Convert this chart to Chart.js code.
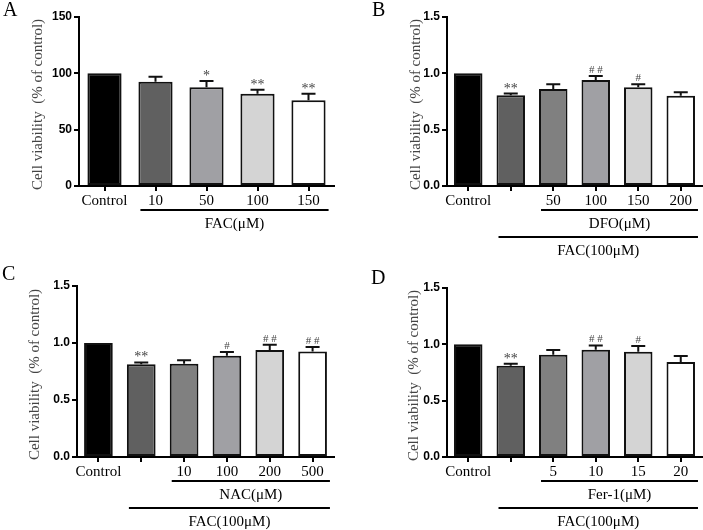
<!DOCTYPE html>
<html><head><meta charset="utf-8">
<script src="https://cdn.jsdelivr.net/npm/chart.js@4.4.1/dist/chart.umd.min.js"></script>
<style>
html,body{margin:0;padding:0;background:#fff;}
#wrap{position:relative;width:703px;height:530px;overflow:hidden;background:#fff;}
canvas{position:absolute;left:0;top:0;}
</style></head><body><div id="wrap">
<canvas id="cA" width="703" height="530"></canvas>
<canvas id="cB" width="703" height="530"></canvas>
<canvas id="cC" width="703" height="530"></canvas>
<canvas id="cD" width="703" height="530"></canvas>
</div>
<script>
// ---------- data ----------
const labelsA = ['Control', '10', '50', '100', '150'];
const valuesA = [100, 92.6, 87.6, 81.9, 76.0];
const errorsA = [0, 4.4, 5.6, 3.6, 5.9];
const marksA  = ['', '', '*', '**', '**'];
const yTicksA = [0, 50, 100, 150];

const labelsB = ['Control', '', '50', '100', '150', '200'];
const valuesB = [1.0, 0.806, 0.861, 0.941, 0.876, 0.80];
const errorsB = [0, 0.015, 0.042, 0.035, 0.027, 0.032];
const marksB  = ['', '**', '', '# #', '#', ''];
const yTicksB = ['0.0', '0.5', '1.0', '1.5'];

const labelsC = ['Control', '', '10', '100', '200', '500'];
const valuesC = [1.0, 0.813, 0.818, 0.888, 0.938, 0.926];
const errorsC = [0, 0.017, 0.030, 0.032, 0.046, 0.038];
const marksC  = ['', '**', '', '#', '# #', '# #'];
const yTicksC = ['0.0', '0.5', '1.0', '1.5'];

const labelsD = ['Control', '', '5', '10', '15', '20'];
const valuesD = [1.0, 0.81, 0.908, 0.952, 0.935, 0.843];
const errorsD = [0, 0.018, 0.042, 0.038, 0.050, 0.053];
const marksD  = ['', '**', '', '# #', '#', ''];
const yTicksD = ['0.0', '0.5', '1.0', '1.5'];

const groupsA = [{label: 'FAC(μM)', from: 1, to: 4, level: 0}];
const groupsB = [{label: 'DFO(μM)', from: 2, to: 5, level: 0}, {label: 'FAC(100μM)', from: 1, to: 5, level: 1}];
const groupsC = [{label: 'NAC(μM)', from: 2, to: 5, level: 0}, {label: 'FAC(100μM)', from: 1, to: 5, level: 1}];
const groupsD = [{label: 'Fer-1(μM)', from: 2, to: 5, level: 0}, {label: 'FAC(100μM)', from: 1, to: 5, level: 1}];

const yTitle = 'Cell viability  (% of control)';

// ---------- styles ----------
const fill5 = ['#000000', '#606060', '#a0a0a4', '#d4d4d4', '#ffffff'];
const fill6 = ['#000000', '#606060', '#808080', '#a0a0a4', '#d4d4d4', '#ffffff'];
const SERIF = '"Liberation Serif", "Times New Roman", serif';
const SANS = '"Liberation Sans", Arial, sans-serif';
const W = 703, H = 530;

const extras = {
  id: 'extras',
  afterDatasetsDraw(chart, args, o) {
    const ctx = chart.ctx, ys = chart.scales.y;
    const meta = chart.getDatasetMeta(0);
    ctx.save();
    meta.data.forEach((bar, i) => {
      const e = o.errors[i];
      let top = bar.y;
      if (e) {
        top = ys.getPixelForValue(o.values[i] + e);
        const cap = 14;
        ctx.strokeStyle = '#111'; ctx.lineWidth = 2;
        ctx.beginPath();
        ctx.moveTo(bar.x, bar.y); ctx.lineTo(bar.x, top);
        ctx.moveTo(bar.x - cap / 2, top); ctx.lineTo(bar.x + cap / 2, top);
        ctx.stroke();
      }
      const m = o.marks[i];
      if (m) {
        const star = m.indexOf('*') >= 0;
        ctx.fillStyle = '#444';
        ctx.font = (star ? '14px ' : '11px ') + SERIF;
        ctx.textAlign = 'center';
        ctx.textBaseline = 'alphabetic';
        ctx.fillText(m, bar.x, top - (star ? 1 : 3));
      }
    });
    ctx.restore();
  },
  afterDraw(chart, args, o) {
    const ctx = chart.ctx, area = chart.chartArea;
    const meta = chart.getDatasetMeta(0);
    ctx.save();
    // group brackets
    o.groups.forEach(g => {
      const b1 = meta.data[g.from], b2 = meta.data[g.to];
      const x1 = b1.x - b1.width / 2 + 2, x2 = b2.x + b2.width / 2 + 3;
      const ly = area.bottom + (g.level ? 51 : 24);
      const ty = area.bottom + (g.level ? 65 : 38);
      ctx.strokeStyle = '#000'; ctx.lineWidth = 2;
      ctx.beginPath(); ctx.moveTo(x1, ly); ctx.lineTo(x2, ly); ctx.stroke();
      ctx.fillStyle = '#000'; ctx.font = '15px ' + SERIF;
      ctx.textAlign = 'center'; ctx.textBaseline = 'middle';
      ctx.fillText(g.label, (x1 + x2) / 2, ty);
    });
    // y title
    ctx.save();
    ctx.translate(o.titleX, (area.top + area.bottom) / 2 + 3);
    ctx.rotate(-Math.PI / 2);
    ctx.fillStyle = '#444'; ctx.font = '15px ' + SERIF;
    ctx.textAlign = 'center'; ctx.textBaseline = 'middle';
    ctx.fillText(yTitle, 0, 0);
    ctx.restore();
    // panel letter
    ctx.fillStyle = '#000'; ctx.font = '20px ' + SERIF;
    ctx.textAlign = 'left'; ctx.textBaseline = 'top';
    ctx.fillText(o.letter, o.letterX, o.letterY);
    ctx.restore();
  }
};

function makePanel(id, p) {
  const yAxisW = 30, xAxisH = 70;
  const maxV = Number(p.yTicks[p.yTicks.length - 1]);
  const step = Number(p.yTicks[1]) - Number(p.yTicks[0]);
  const dec = typeof p.yTicks[0] === 'string' ? 1 : 0;
  new Chart(document.getElementById(id), {
    type: 'bar',
    data: {
      labels: p.labels,
      datasets: [{
        data: p.values,
        backgroundColor: p.colors,
        borderColor: '#111',
        borderWidth: 2,
        borderSkipped: false,
        barPercentage: 0.67,
        categoryPercentage: 1.0
      }]
    },
    options: {
      responsive: false, animation: false, devicePixelRatio: 1,
      events: [],
      layout: { padding: { left: p.left - yAxisW, right: W - p.right, top: p.top, bottom: H - p.bottom - xAxisH } },
      plugins: {
        legend: { display: false }, tooltip: { enabled: false },
        extras: { errors: p.errors, values: p.values, marks: p.marks, groups: p.groups,
                  titleX: p.titleX, letter: p.letter, letterX: p.letterX, letterY: p.letterY }
      },
      scales: {
        x: {
          afterFit(s) { s.height = xAxisH; },
          border: { display: true, color: '#000', width: 2 },
          grid: { display: true, drawOnChartArea: false, drawTicks: true, tickLength: 5, offset: false, color: '#000', lineWidth: 2 },
          ticks: { color: '#000', font: { family: SERIF, size: 15 }, padding: 1, maxRotation: 0, autoSkip: false }
        },
        y: {
          min: 0, max: maxV,
          afterFit(s) { s.width = yAxisW; },
          border: { display: true, color: '#000', width: 2 },
          grid: { display: true, drawOnChartArea: false, drawTicks: true, tickLength: 5, color: '#000', lineWidth: 2 },
          ticks: { stepSize: step, color: '#000', font: { family: SANS, size: 12, weight: 'bold' }, padding: 2,
                   callback: v => Number(v).toFixed(dec) }
        }
      }
    },
    plugins: [extras]
  });
}

makePanel('cA', { labels: labelsA, values: valuesA, errors: errorsA, marks: marksA, yTicks: yTicksA, groups: groupsA,
  colors: fill5, left: 79, right: 334, top: 17, bottom: 186, titleX: 38, letter: 'A', letterX: 3, letterY: 1 });
makePanel('cB', { labels: labelsB, values: valuesB, errors: errorsB, marks: marksB, yTicks: yTicksB, groups: groupsB,
  colors: fill6, left: 447, right: 702, top: 17, bottom: 186, titleX: 416, letter: 'B', letterX: 372, letterY: 1 });
makePanel('cC', { labels: labelsC, values: valuesC, errors: errorsC, marks: marksC, yTicks: yTicksC, groups: groupsC,
  colors: fill6, left: 77, right: 334, top: 286, bottom: 457, titleX: 35, letter: 'C', letterX: 2, letterY: 265 });
makePanel('cD', { labels: labelsD, values: valuesD, errors: errorsD, marks: marksD, yTicks: yTicksD, groups: groupsD,
  colors: fill6, left: 447, right: 702, top: 288, bottom: 457, titleX: 414, letter: 'D', letterX: 371, letterY: 269 });
</script>
</body></html>
